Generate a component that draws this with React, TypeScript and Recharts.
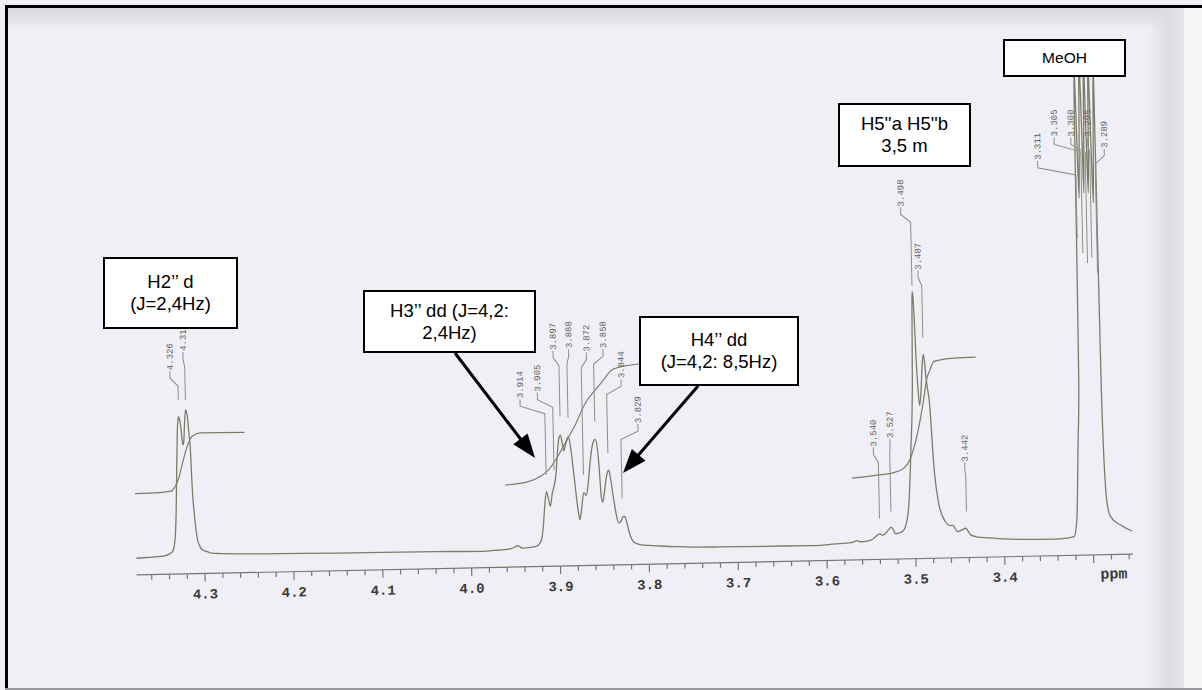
import React from 'react';
import { ComposedChart, Line, XAxis, YAxis, Scatter } from 'recharts';

type Pt = [number, number];

// ---- 1H trace: [chemical shift (ppm), intensity] ----
const baselineLeft: Pt[] = [
  [4.377, -0.3], [4.365, 0.2], [4.352, 0.8], [4.344, 1.8], [4.339, 3.5],
];

const h2Doublet: Pt[] = [
  [4.336, 5.6], [4.334, 11], [4.3326, 20.6], [4.331, 45], [4.3298, 77], [4.3285, 110],
  [4.3275, 131], [4.3266, 139], [4.326, 140.5], [4.3252, 138], [4.3236, 128], [4.3225, 116],
  [4.3215, 112], [4.3205, 118], [4.3195, 134], [4.3186, 143], [4.318, 147], [4.317, 145],
  [4.3159, 138], [4.3147, 122], [4.3136, 108], [4.3125, 72], [4.3101, 37], [4.3076, 17],
  [4.305, 10], [4.3022, 6.7], [4.296, 4.5], [4.2929, 3.2],
];

const gapH2H3: Pt[] = [
  [4.28, 2.6], [4.263, 2], [4.23, 1.4], [4.19, 1.0], [4.151, 0.6], [4.1, 0.4], [4.038, 0.1],
  [3.99, -0.6], [3.975, 0.0], [3.962, 0.6], [3.955, 1.4], [3.9505, 3.0], [3.9475, 4.4],
  [3.9445, 2.6], [3.941, 1.7], [3.933, 2.3], [3.927, 3.1],
];

const h3h4Multiplet: Pt[] = [
  [3.9225, 6.3], [3.92, 12], [3.918, 26], [3.916, 46], [3.914, 57.8], [3.9118, 50],
  [3.91, 43], [3.9075, 56], [3.905, 64], [3.903, 74], [3.901, 94], [3.899, 110],
  [3.897, 114], [3.8952, 106], [3.8936, 98], [3.8915, 104], [3.8897, 110], [3.888, 112.3],
  [3.886, 103], [3.884, 86], [3.8815, 62], [3.879, 40], [3.877, 29], [3.8748, 40],
  [3.872, 56], [3.8695, 53], [3.867, 64], [3.8645, 84], [3.862, 100], [3.86, 107],
  [3.858, 109], [3.8555, 98], [3.854, 78], [3.8525, 52], [3.851, 46], [3.849, 55],
  [3.8465, 70], [3.8445, 77], [3.8434, 78], [3.842, 72], [3.8395, 55], [3.8365, 36],
  [3.8334, 24.7], [3.8305, 27], [3.8285, 31], [3.8265, 31.2], [3.8245, 26], [3.822, 16],
  [3.8195, 9], [3.8171, 5.5], [3.815, 4.3], [3.81, 2.8], [3.8, 1.8], [3.795, 1.5],
];

const gapH4H5: Pt[] = [
  [3.77, 0], [3.75, -0.8], [3.72, -1.2], [3.691, -1.4], [3.65, -1.6], [3.615, -1.8],
  [3.59, -0.6], [3.5775, 0], [3.57, 0.8], [3.566, 2.3], [3.562, 1.0], [3.555, 1.5], [3.5505, 2.4],
];

const h5Multiplet: Pt[] = [
  [3.5469, 4.3], [3.5445, 6], [3.54, 8.5], [3.5372, 7.1], [3.5335, 9], [3.5295, 13],
  [3.527, 15.1], [3.5245, 12], [3.5223, 8.2], [3.518, 9], [3.5146, 10.3], [3.5115, 14],
  [3.5069, 35], [3.5029, 95], [3.4998, 162], [3.4985, 235], [3.498, 250], [3.4972, 245],
  [3.4962, 220], [3.495, 180], [3.4935, 150], [3.4922, 136], [3.4905, 148], [3.4888, 172],
  [3.487, 187], [3.4858, 180], [3.4842, 162], [3.4808, 135], [3.4778, 78], [3.4731, 38],
  [3.4662, 19.5], [3.4605, 15.3], [3.4575, 15.5], [3.4527, 9.2], [3.448, 10.5],
  [3.4432, 12.3], [3.44, 8.5], [3.4378, 5.6], [3.43, 3.3], [3.419, 2.3], [3.4, 0.8],
];

const gapH5MeOH: Pt[] = [
  [3.3816, 0], [3.3441, -0.4], [3.33, 0.3], [3.3215, 1.7], [3.3181, 18.3], [3.315, 91.8],
  [3.3126, 158],
];

const meohQuintet: Pt[] = [
  [3.3118, 300], [3.311, 478], [3.3095, 420], [3.308, 340], [3.3065, 400], [3.305, 482],
  [3.3035, 410], [3.3025, 345], [3.3012, 410], [3.3, 486], [3.2988, 410], [3.2975, 345],
  [3.2962, 405], [3.295, 482], [3.2935, 400], [3.292, 335], [3.2905, 410], [3.289, 476],
  [3.2882, 300], [3.2875, 158], [3.2865, 92], [3.2855, 62], [3.2845, 42], [3.2804, 21.4],
  [3.2694, 12.5], [3.2556, 5.8],
];

// ---- integral traces ----
const integralH2: Pt[] = [
  [4.377, 64.3], [4.349, 64.8], [4.336, 66], [4.3327, 69], [4.3279, 77.2], [4.3227, 93.8],
  [4.3171, 110.3], [4.3112, 120.4], [4.3016, 123.6], [4.2523, 123.3],
];

const integralH3H4: Pt[] = [
  [3.9603, 65.2], [3.9341, 68.1], [3.9208, 72.9], [3.9112, 79.4], [3.9017, 90.9],
  [3.8919, 105.7], [3.8801, 123.8], [3.8683, 145.3], [3.8567, 158.4], [3.8472, 168.2],
  [3.8376, 178], [3.8224, 181.8], [3.8098, 183.2], [3.78, 184],
];

const integralH5: Pt[] = [
  [3.5702, 64.8], [3.5453, 66.9], [3.5228, 69.5], [3.5113, 73.7], [3.5045, 81.9],
  [3.4981, 98.5], [3.4919, 121.7], [3.4876, 141.6], [3.4838, 161.5], [3.4795, 172],
  [3.4752, 179.8], [3.4525, 182.7], [3.428, 183.2],
];

// ---- picked peaks ----
const peakValues = [
  4.326, 4.318, 3.914, 3.905, 3.897, 3.888, 3.872, 3.858, 3.844, 3.829,
  3.54, 3.527, 3.498, 3.487, 3.442, 3.311, 3.305, 3.3, 3.295, 3.289,
];
const peakLabels = [
  '4.326', '4.318', '3.914', '3.905', '3.897', '3.888', '3.872', '3.858', '3.844', '3.829',
  '3.540', '3.527', '3.498', '3.487', '3.442', '3.311', '3.305', '3.300', '3.295', '3.289',
];
// shift at which each printed value stands
const labelShifts = [
  4.3348, 4.3197, 3.9416, 3.922, 3.9034, 3.8858, 3.8659, 3.8471, 3.8275, 3.8096,
  3.5453, 3.5264, 3.5089, 3.4909, 3.4428, 3.3538, 3.3346, 3.3158, 3.297, 3.2786,
];
// intensity level of the lower end of each printed value
const labelFeet = [
  187, 206, 151.7, 157.9, 199.3, 200.7, 196.9, 200, 169.6, 124.3,
  95.9, 104, 335.4, 271.7, 79, 379.2, 402.2, 401.8, 401.5, 389.8,
];
// intensity level where each leader stops
const leaderEnds = [
  157, 157, 74.5, 79.4, 132.5, 131.1, 73.8, 126.8, 94.9, 49.6,
  23.9, 30.6, 256, 203.4, 29, 300, 285, 275, 280, 265,
];

// ---- axis ----
const axisTicks = [
  4.36, 4.34, 4.32, 4.3, 4.28, 4.26, 4.24, 4.22, 4.2, 4.18, 4.16, 4.14, 4.12, 4.1,
  4.08, 4.06, 4.04, 4.02, 4.0, 3.98, 3.96, 3.94, 3.92, 3.9, 3.88, 3.86, 3.84, 3.82,
  3.8, 3.78, 3.76, 3.74, 3.72, 3.7, 3.68, 3.66, 3.64, 3.62, 3.6, 3.58, 3.56, 3.54,
  3.52, 3.5, 3.48, 3.46, 3.44, 3.42, 3.4, 3.38, 3.36, 3.34, 3.32, 3.3, 3.28, 3.26,
];
const majorTickLabels = ['4.3', '4.2', '4.1', '4.0', '3.9', '3.8', '3.7', '3.6', '3.5', '3.4'];

const toRows = (pts: Pt[]) => pts.map(([ppm, i]) => ({ ppm, i }));

const spectrum = toRows([
  ...baselineLeft, ...h2Doublet, ...gapH2H3, ...h3h4Multiplet, ...gapH4H5,
  ...h5Multiplet, ...gapH5MeOH, ...meohQuintet,
]);
const integrals = [integralH2, integralH3H4, integralH5].map(toRows);

const LEADER_GAP = 1;
const LEADER_STUB = 7;
const LEADER_BEND = 8;

const leaders = peakValues.map((v, k) => {
  const start = labelFeet[k] - LEADER_GAP;
  return [
    { ppm: labelShifts[k], i: start },
    { ppm: labelShifts[k], i: start - LEADER_STUB },
    { ppm: v, i: start - LEADER_STUB - LEADER_BEND },
    { ppm: v, i: leaderEnds[k] },
  ];
});

const labelRows = peakLabels.map((text, k) => ({ ppm: labelShifts[k], i: labelFeet[k], text }));

const TRACE = '#7a7d68';
const LEADER = '#8e8e82';
const MONO = "'Liberation Mono', 'DejaVu Sans Mono', monospace";
const SANS = "'Liberation Sans', Arial, sans-serif";

const PpmTick = (props: any) => {
  const { x, y, payload } = props;
  const v: number = payload.value;
  const isMajor = Math.abs(v * 10 - Math.round(v * 10)) < 1e-6;
  const label = majorTickLabels.find((s) => Math.abs(Number(s) - v) < 1e-6);
  return (
    <g>
      <line x1={x} y1={y} x2={x} y2={y + (isMajor ? 8 : 5)} stroke="#76766e" strokeWidth={1.2} />
      {label && (
        <text x={x} y={y + 25} textAnchor="middle" fontFamily={MONO} fontWeight={700} fontSize={14} fill="#3a3a3a">
          {label}
        </text>
      )}
    </g>
  );
};

const PeakText = (props: any) => {
  const { cx, cy, payload } = props;
  if (cx == null || cy == null) return <g />;
  return (
    <text
      x={cx}
      y={cy}
      dy="0.35em"
      transform={`rotate(-90 ${cx} ${cy})`}
      textAnchor="start"
      fontFamily={MONO}
      fontSize={9}
      fill="#62625c"
    >
      {payload.text}
    </text>
  );
};

type Note = { lines: string[]; left: number; top: number; width: number; height: number; size: number };
const notes: Note[] = [
  { lines: ['H2’’ d', '(J=2,4Hz)'], left: 103, top: 257, width: 135, height: 72, size: 18.5 },
  { lines: ['H3’’ dd (J=4,2:', '2,4Hz)'], left: 363, top: 290, width: 173, height: 63, size: 18.5 },
  { lines: ['H4’’ dd', '(J=4,2: 8,5Hz)'], left: 639, top: 316, width: 160, height: 70, size: 18.5 },
  { lines: ["H5''a H5''b", '3,5 m'], left: 838, top: 103, width: 133, height: 64, size: 18.5 },
  { lines: ['MeOH'], left: 1003, top: 39, width: 123, height: 38, size: 15.5 },
];

const pointers = [
  { x1: 455, y1: 353, x2: 535, y2: 458 },
  { x1: 698, y1: 386, x2: 623, y2: 473 },
];

const Pointer = ({ x1, y1, x2, y2 }: { x1: number; y1: number; x2: number; y2: number }) => {
  const len = Math.hypot(x2 - x1, y2 - y1);
  const ux = (x2 - x1) / len;
  const uy = (y2 - y1) / len;
  const head = 24;
  const half = 9;
  const bx = x2 - ux * head;
  const by = y2 - uy * head;
  const pts = `${x2},${y2} ${bx - uy * half},${by + ux * half} ${bx + uy * half},${by - ux * half}`;
  return (
    <g>
      <line x1={x1} y1={y1} x2={bx + ux * 2} y2={by + uy * 2} stroke="#000" strokeWidth={3} />
      <polygon points={pts} fill="#000" />
    </g>
  );
};

export default function App() {
  return (
    <div
      style={{
        position: 'fixed',
        left: 0,
        top: 0,
        width: 1202,
        height: 690,
        overflow: 'hidden',
        background: '#f1eff6',
      }}
    >
      {/* paper edges */}
      <div style={{ position: 'absolute', left: 8, top: 8, width: 1194, height: 22, background: 'linear-gradient(#d9d7de, rgba(241,239,246,0))' }} />
      <div style={{ position: 'absolute', left: 1148, top: 8, width: 36, height: 682, background: 'linear-gradient(90deg, rgba(241,239,246,0), #dcdbe0 60%, #e6e6ea)' }} />
      <div style={{ position: 'absolute', left: 1184, top: 8, width: 18, height: 682, background: '#f5f5f7' }} />

      <div
        style={{
          position: 'absolute',
          left: 0,
          top: 0,
          width: 1202,
          height: 690,
          transform: 'rotate(-1.2deg)',
          transformOrigin: '635px 565px',
        }}
      >
        <ComposedChart width={1202} height={690} margin={{ top: 20.5, right: 68.8, bottom: 95.5, left: 136.5 }}>
          <XAxis
            dataKey="ppm"
            type="number"
            domain={[3.2556, 4.377]}
            reversed
            allowDataOverflow
            ticks={axisTicks}
            interval={0}
            tick={(p: any) => <PpmTick {...p} />}
            tickLine={false}
            tickSize={0}
            tickMargin={0}
            height={30}
            axisLine={{ stroke: '#76766e', strokeWidth: 1.2 }}
            label={{
              value: 'ppm',
              position: 'insideBottomRight',
              offset: 6,
              fill: '#3a3a3a',
              fontSize: 15,
              fontWeight: 700,
              fontFamily: MONO,
            }}
          />
          <YAxis dataKey="i" type="number" domain={[-17, 527]} allowDataOverflow hide />
          <Line
            data={spectrum}
            dataKey="i"
            type="monotoneX"
            stroke={TRACE}
            strokeWidth={1.3}
            dot={false}
            activeDot={false}
            isAnimationActive={false}
          />
          {integrals.map((rows, k) => (
            <Line
              key={`int${k}`}
              data={rows}
              dataKey="i"
              type="monotoneX"
              stroke={TRACE}
              strokeWidth={1.2}
              dot={false}
              activeDot={false}
              isAnimationActive={false}
            />
          ))}
          {leaders.map((rows, k) => (
            <Line
              key={`lead${k}`}
              data={rows}
              dataKey="i"
              type="linear"
              stroke={LEADER}
              strokeWidth={1}
              dot={false}
              activeDot={false}
              isAnimationActive={false}
            />
          ))}
          <Scatter data={labelRows} dataKey="i" shape={(p: any) => <PeakText {...p} />} isAnimationActive={false} />
        </ComposedChart>
      </div>

      {/* annotations */}
      <svg width={1202} height={690} style={{ position: 'absolute', left: 0, top: 0 }}>
        {pointers.map((p, k) => (
          <Pointer key={k} {...p} />
        ))}
      </svg>
      {notes.map((n, k) => (
        <div
          key={k}
          style={{
            position: 'absolute',
            left: n.left,
            top: n.top,
            width: n.width,
            height: n.height,
            boxSizing: 'border-box',
            border: '2px solid #000',
            background: '#fff',
            display: 'flex',
            flexDirection: 'column',
            justifyContent: 'center',
            alignItems: 'center',
            fontFamily: SANS,
            fontSize: n.size,
            lineHeight: '22px',
            color: '#000',
          }}
        >
          {n.lines.map((l, j) => (
            <div key={j} style={{ whiteSpace: 'nowrap' }}>{l}</div>
          ))}
        </div>
      ))}

      {/* frame */}
      <div style={{ position: 'absolute', left: 5, top: 5, width: 1197, height: 3, background: '#000' }} />
      <div style={{ position: 'absolute', left: 5, top: 5, width: 3, height: 685, background: '#000' }} />
      <div style={{ position: 'absolute', left: 5, top: 688, width: 1197, height: 2, background: '#9a9a9e' }} />
    </div>
  );
}
